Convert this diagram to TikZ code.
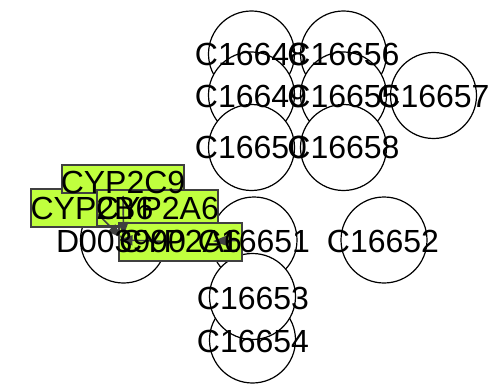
\documentclass[tikz,border=0pt]{standalone}
\usepackage{fontspec}
\setmainfont{Liberation Sans}
\usetikzlibrary{arrows.meta}
\definecolor{boxgreen}{HTML}{C0FF3E}
\definecolor{edgegray}{HTML}{404040}
\begin{document}
\begin{tikzpicture}[x=1pt,y=-1pt,
  cpd/.style={circle,draw=black,fill=white,line width=1.2pt,minimum size=86pt,inner sep=0pt},
  gene/.style={rectangle,draw=edgegray,fill=boxgreen,line width=1.2pt,inner sep=0pt},
  lbl/.style={inner sep=0pt,font=\fontsize{32}{32}\selectfont},
  edge/.style={draw=edgegray,line width=1.6pt,-{Triangle[length=14pt,width=10pt]}}]
\useasboundingbox (0,0) rectangle (494,390);
% compound circles
\node[cpd] (c48) at (251.5,54) {};
\node[cpd] (c49) at (251.5,95) {};
\node[cpd] (c50) at (251.5,147.5) {};
\node[cpd] (c56) at (343.5,54) {};
\node[cpd] (c55) at (343.5,95) {};
\node[cpd] (c58) at (343.5,147.5) {};
\node[cpd] (c57) at (433.5,95.5) {};
\node[cpd] (c51) at (254,240) {};
\node[cpd] (c52) at (384,240) {};
\node[cpd] (c54) at (252.5,340) {};
\node[cpd] (c53) at (252.5,296.5) {};
\node[cpd] (d) at (123.5,240) {};
% gene boxes
\node[gene,minimum width=122pt,minimum height=38pt] (g2b6) at (92,208) {};
\node[gene,minimum width=122pt,minimum height=28pt] (g2c9) at (123,179) {};
\node[gene,minimum width=121pt,minimum height=36pt] (g2a6) at (157.5,208) {};
\node[gene,minimum width=123pt,minimum height=38pt] (g2a6b) at (180.5,242) {};
% edges
\draw[edge,shorten <=17pt,shorten >=4pt] (g2c9.center) -- (d.center);
\draw[edge,shorten <=9pt,shorten >=3pt] (g2b6.center) -- (d.center);
\draw[edge,shorten <=10.5pt,shorten >=-5pt] (g2a6b.center) -- (d.center);
\draw[edge,shorten <=15pt,shorten >=32.5pt] (c51.center) -- (g2a6b.center);
% labels
\node[lbl] (t48) at (251,54) {C16648};
\node[lbl] (t49) at (251,96) {C16649};
\node[lbl] (t50) at (251,147.5) {C16650};
\node[lbl] (t56) at (343.5,54) {C16656};
\node[lbl] (t55) at (343.5,96) {C16655};
\node[lbl] (t58) at (343.5,147.5) {C16658};
\node[lbl] (t57) at (433.5,96.5) {C16657};
\node[lbl] (t51) at (254,241.5) {C16651};
\node[lbl] (t52) at (383,241.5) {C16652};
\node[lbl] (t53) at (253,298.5) {C16653};
\node[lbl] (t54) at (253,341.5) {C16654};
\node[lbl] (td) at (121,241) {D003990};
\node[lbl] (tb6) at (92,208.5) {CYP2B6};
\node[lbl] (tc9) at (123,182.5) {CYP2C9};
\node[lbl] (ta6) at (157.5,208.5) {CYP2A6};
\node[lbl] (ta6b) at (180.5,241) {CYP2A6};
\end{tikzpicture}
\end{document}
